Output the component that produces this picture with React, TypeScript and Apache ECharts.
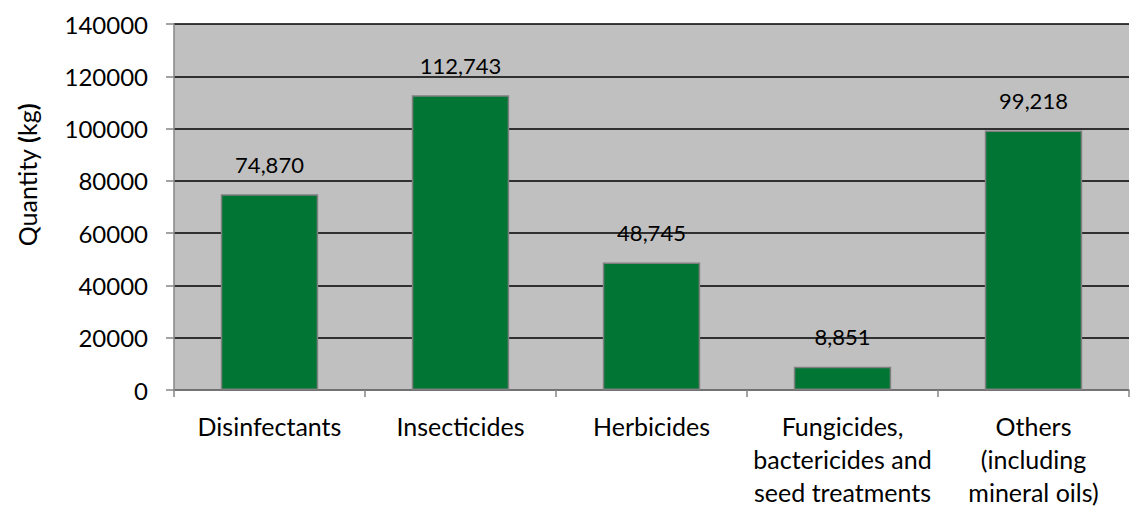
import React, { useEffect, useRef } from "react";
import * as echarts from "echarts";

const categories = [
  "Disinfectants",
  "Insecticides",
  "Herbicides",
  "Fungicides,\nbactericides and\nseed treatments",
  "Others\n(including\nmineral oils)",
];
const quantities = [74870, 112743, 48745, 8851, 99218];
const yTicks = { min: 0, max: 140000, interval: 20000 };
const yTitle = "Quantity";
const yUnit = "kg";

export default function App() {
  const ref = useRef<HTMLDivElement>(null);
  useEffect(() => {
    const chart = echarts.init(ref.current!, null, { renderer: "svg" });
    const font = "Lato, 'Open Sans', sans-serif";
    chart.setOption({
      animation: false,
      grid: { left: 174, right: 1, top: 24, bottom: 116, show: true, backgroundColor: "#C0C0C0", borderWidth: 0 },
      graphic: [
        {
          type: "text",
          x: 27,
          y: 175,
          rotation: Math.PI / 2,
          style: {
            text: `${yTitle} {b|(}${yUnit}{b|)}`,
            fill: "#000",
            fontSize: 25,
            fontFamily: font,
            align: "center",
            verticalAlign: "middle",
            rich: { b: { fontSize: 25, fontWeight: "bold", fontFamily: font, fill: "#000" } },
          },
        },
      ],
      xAxis: {
        type: "category",
        data: categories,
        axisLine: { lineStyle: { color: "#868686", width: 1.5 } },
        axisTick: { show: true, alignWithLabel: false, length: 7, lineStyle: { color: "#868686", width: 1.5 } },
        axisLabel: { color: "#000", fontSize: 25, fontFamily: font, lineHeight: 33, margin: 19, interval: 0 },
        splitLine: { show: false },
      },
      yAxis: {
        type: "value",
        min: yTicks.min,
        max: yTicks.max,
        interval: yTicks.interval,
        axisLine: { show: true, lineStyle: { color: "#868686", width: 1.5 } },
        axisTick: { show: true, length: 8, lineStyle: { color: "#868686", width: 1.5 } },
        axisLabel: { color: "#000", fontSize: 24, fontFamily: font, margin: 26, formatter: (v: number) => String(v) },
        splitLine: { show: true, lineStyle: { color: "#000", width: 1.5 } },
      },
      series: [
        {
          type: "bar",
          data: quantities,
          barWidth: "51%",
          itemStyle: { color: "#007534", borderColor: "#7F7F7F", borderWidth: 1.5 },
          label: {
            show: true,
            position: "top",
            distance: 19,
            color: "#000",
            fontSize: 22,
            fontFamily: font,
            formatter: (p: any) => p.value.toLocaleString("en-US"),
          },
        },
      ],
    });
    return () => chart.dispose();
  }, []);
  return <div ref={ref} style={{ width: 1130, height: 508, position: "absolute", left: 0, top: 0 }} />;
}
